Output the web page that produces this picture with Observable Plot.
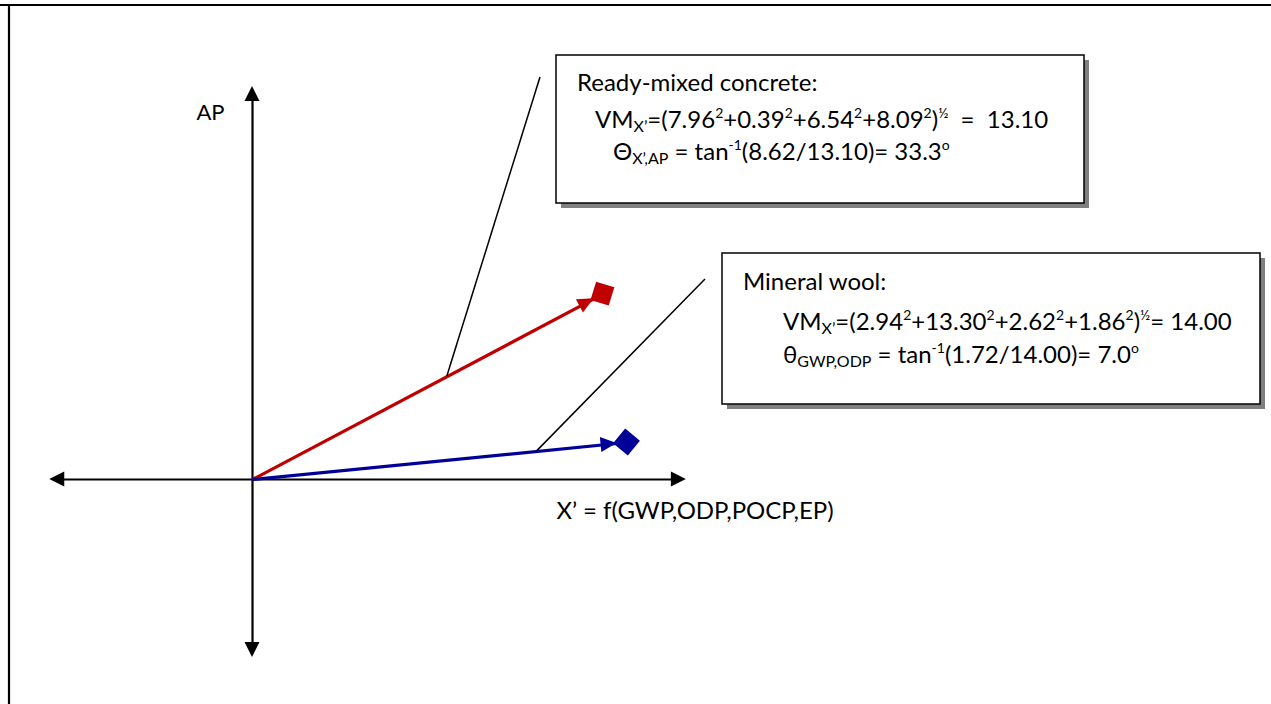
<!DOCTYPE html>
<html><head><meta charset="utf-8">
<script src="https://cdn.jsdelivr.net/npm/d3@7"></script>
<script src="https://cdn.jsdelivr.net/npm/@observablehq/plot@0.6"></script>
<style>html,body{margin:0;padding:0;background:#fff;overflow:hidden}svg{display:block}</style>
</head><body><div id="chart"></div>
<script>
// ---- data ----
const materials = ["Ready-mixed concrete", "Mineral wool"];
const indicatorValues = [[7.96, 0.39, 6.54, 8.09], [2.94, 13.30, 2.62, 1.86]];
const vectorMagnitude = [13.10, 14.00];
const apValue = [8.62, 1.72];
const angleDeg = [33.3, 7.0];
const thetaSymbol = ["Θ", "θ"];
const angleSubscript = ["X’,AP", "GWP,ODP"];
const equalsText = ["  =  ", "= "];
const axisLabels = ["AP", "X’ = f(GWP,ODP,POCP,EP)"];
const axisExtentX = [-7.58, 16.22];
const axisExtentY = [-8.28, 18.28];
const leaderFraction = [0.556, 0.76];

// ---- layout / style (pixels) ----
const W = 1271, H = 704;
const origin = [252, 479];
const kx = 26.75, ky = 21.5;
const colors = ["#c00000", "#000099"];
const FONT = "Lato, 'Open Sans', sans-serif";
const FS = 24, SUP = 14, SUB = 16;
const boxes = [
  {x: 556, y: 55, w: 528, h: 148, lead: [540, 77],
   lines: [{x: 577, y: 91}, {x: 595, y: 128}, {x: 613, y: 160}]},
  {x: 722, y: 253, w: 538, h: 151, lead: [705, 279],
   lines: [{x: 743, y: 290}, {x: 783, y: 330}, {x: 783, y: 363}]}
];

const vectors = materials.map((m, i) => ({name: m, x: vectorMagnitude[i], y: apValue[i], color: colors[i], i}));

function lineSpans(i) {
  const l1 = [{t: materials[i] + ":"}];
  const l2 = [{t: "VM"}, {t: "X’", s: "sub"}, {t: "=("}];
  indicatorValues[i].forEach((v, k) => {
    l2.push({t: v.toFixed(2)}, {t: "2", s: "sup"});
    if (k < indicatorValues[i].length - 1) l2.push({t: "+"});
  });
  l2.push({t: ")"}, {t: "½", s: "sup"}, {t: equalsText[i] + vectorMagnitude[i].toFixed(2)});
  const l3 = [{t: thetaSymbol[i]}, {t: angleSubscript[i], s: "sub"}, {t: " = tan"}, {t: "-1", s: "sup"},
    {t: "(" + apValue[i].toFixed(2) + "/" + vectorMagnitude[i].toFixed(2) + ")= " + angleDeg[i].toFixed(1)}, {t: "o", s: "sup"}];
  return [l1, l2, l3];
}

const shift = {sup: -10.5, sub: 4};
const size = {sup: SUP, sub: SUB};

function frameMark() {
  const g = d3.create("svg:g");
  g.append("line").attr("x1", 0).attr("x2", W).attr("y1", 5).attr("y2", 5).attr("stroke", "#000").attr("stroke-width", 2.2);
  g.append("line").attr("x1", 9).attr("x2", 9).attr("y1", 4).attr("y2", H).attr("stroke", "#000").attr("stroke-width", 2.2);
  return g.node();
}

function axisHeads(index, scales) {
  const g = d3.create("svg:g");
  const L = 15, hw = 7.5;
  const tri = (tx, ty, dx, dy) => {
    const bx = tx - dx * L, by = ty - dy * L;
    const px = -dy, py = dx;
    return [[tx, ty], [bx + px * hw, by + py * hw], [bx - px * hw, by - py * hw]];
  };
  const x0 = scales.x(0), y0 = scales.y(0);
  const heads = [
    tri(scales.x(axisExtentX[1]), y0, 1, 0),
    tri(scales.x(axisExtentX[0]), y0, -1, 0),
    tri(x0, scales.y(axisExtentY[1]), 0, -1),
    tri(x0, scales.y(axisExtentY[0]), 0, 1)
  ];
  g.selectAll("polygon").data(heads).join("polygon").attr("points", d => d.join(" ")).attr("fill", "#000");
  return g.node();
}

function vectorHeads(index, scales) {
  const g = d3.create("svg:g");
  vectors.forEach(v => {
    const ox = scales.x(0), oy = scales.y(0);
    const ex = scales.x(v.x), ey = scales.y(v.y);
    const len = Math.hypot(ex - ox, ey - oy);
    const ux = (ex - ox) / len, uy = (ey - oy) / len;
    const px = -uy, py = ux;
    const D = 13.5;
    const tx = ex - ux * 10, ty = ey - uy * 10;
    const bx = tx - ux * 16, by = ty - uy * 16;
    const hw = 7.5;
    g.append("polygon").attr("points", [[tx, ty], [bx + px * hw, by + py * hw], [bx - px * hw, by - py * hw]].join(" ")).attr("fill", v.color);
    g.append("polygon").attr("points", [[ex - ux * D, ey - uy * D], [ex + px * D, ey + py * D], [ex + ux * D, ey + uy * D], [ex - px * D, ey - py * D]].join(" ")).attr("fill", v.color);
  });
  return g.node();
}

function callouts(index, scales) {
  const g = d3.create("svg:g");
  boxes.forEach((b, i) => {
    const v = vectors[i];
    const fx = scales.x(v.x * leaderFraction[i]), fy = scales.y(v.y * leaderFraction[i]);
    g.append("line").attr("x1", b.lead[0]).attr("y1", b.lead[1]).attr("x2", fx).attr("y2", fy)
      .attr("stroke", "#000").attr("stroke-width", 1.5);
    g.append("rect").attr("x", b.x + 5).attr("y", b.y + 5).attr("width", b.w).attr("height", b.h).attr("fill", "#808080");
    g.append("rect").attr("x", b.x).attr("y", b.y).attr("width", b.w).attr("height", b.h)
      .attr("fill", "#fff").attr("stroke", "#000").attr("stroke-width", 1.5);
    lineSpans(i).forEach((spans, li) => {
      const t = g.append("text").attr("x", b.lines[li].x).attr("y", b.lines[li].y)
        .attr("text-anchor", "start")
        .attr("font-family", FONT).attr("font-size", FS).attr("fill", "#000").style("white-space", "pre");
      let cur = 0;
      spans.forEach(s => {
        const target = s.s ? shift[s.s] : 0;
        const ts = t.append("tspan").attr("dy", target - cur).text(s.t);
        if (s.s) ts.attr("font-size", size[s.s]);
        cur = target;
      });
    });
  });
  return g.node();
}

const chart = Plot.plot({
  width: W, height: H,
  margin: 0,
  x: {domain: [-origin[0] / kx, (W - origin[0]) / kx], axis: null},
  y: {domain: [-(H - origin[1]) / ky, origin[1] / ky], axis: null},
  style: {background: "#fff", fontFamily: FONT},
  marks: [
    frameMark,
    Plot.ruleY([0], {x1: axisExtentX[0] + 0.4, x2: axisExtentX[1] - 0.4, stroke: "#000", strokeWidth: 2.2}),
    Plot.ruleX([0], {y1: axisExtentY[0] + 0.5, y2: axisExtentY[1] - 0.5, stroke: "#000", strokeWidth: 2.2}),
    axisHeads,
    Plot.link(vectors, {x1: 0, y1: 0, x2: "x", y2: "y", stroke: "color", strokeWidth: 3.2}),
    vectorHeads,
    callouts,
    Plot.text([axisLabels[0]], {x: 0, y: axisExtentY[1], text: d => d, dx: -42, dy: 26, fontSize: 22, fill: "#000"}),
    Plot.text([axisLabels[1]], {x: axisExtentX[1], y: 0, text: d => d, dx: -130, dy: 32, textAnchor: "start", fontSize: FS, fill: "#000"})
  ]
});
document.getElementById("chart").appendChild(chart);
</script>
</body></html>
